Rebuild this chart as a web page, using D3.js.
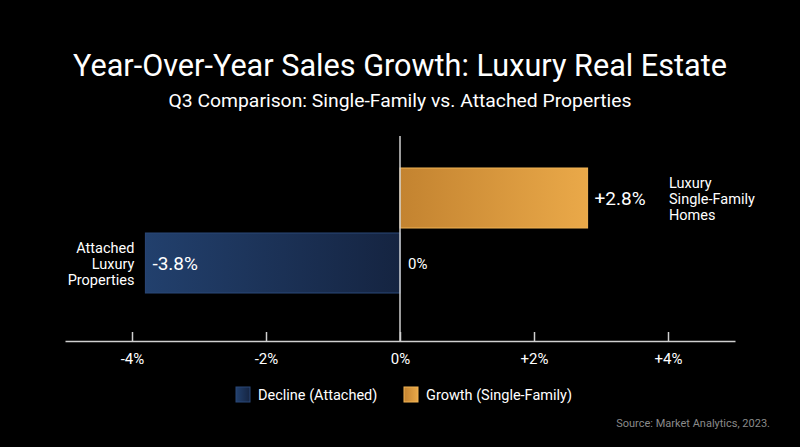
<!DOCTYPE html>
<html>
<head>
<meta charset="utf-8">
<script src="https://cdn.jsdelivr.net/npm/d3@7"></script>
<style>
  html, body { margin: 0; padding: 0; background: #000; }
  svg { display: block; font-family: Roboto, "Noto Sans", sans-serif; }
</style>
</head>
<body>
<svg id="chart" width="800" height="447"></svg>
<script>
// chart data
const categories = ['Luxury Single-Family Homes', 'Attached Luxury Properties'];
const growth = [2.8, -3.8];
const categoryLines = [['Luxury', 'Single-Family', 'Homes'], ['Attached', 'Luxury', 'Properties']];
const xTicks = [-4, -2, 0, 2, 4];
const legendLabels = ['Decline (Attached)', 'Growth (Single-Family)'];

const svg = d3.select('#chart');
const W = 800;

const x = d3.scaleLinear().domain([-5, 5]).range([65, 735]);
const y = d3.scaleBand().domain(categories).range([168, 293]).paddingInner(0.077);
const axisY = 341;

const fmt = v => (v > 0 ? '+' : '') + v + '%';

// gradients
const defs = svg.append('defs');
const gOr = defs.append('linearGradient').attr('id', 'gradOrange');
gOr.append('stop').attr('offset', '0%').attr('stop-color', '#c38330');
gOr.append('stop').attr('offset', '100%').attr('stop-color', '#eaa949');
const gBl = defs.append('linearGradient').attr('id', 'gradBlue');
gBl.append('stop').attr('offset', '0%').attr('stop-color', '#22406d');
gBl.append('stop').attr('offset', '100%').attr('stop-color', '#152441');

// titles
svg.append('text')
  .attr('x', W / 2).attr('y', 76)
  .attr('text-anchor', 'middle')
  .attr('fill', '#fff').attr('font-size', 32)
  .attr('textLength', 654).attr('lengthAdjust', 'spacingAndGlyphs')
  .text('Year-Over-Year Sales Growth: Luxury Real Estate');

svg.append('text')
  .attr('x', W / 2).attr('y', 107)
  .attr('text-anchor', 'middle')
  .attr('fill', '#fff').attr('font-size', 19)
  .attr('textLength', 463).attr('lengthAdjust', 'spacingAndGlyphs')
  .text('Q3 Comparison: Single-Family vs. Attached Properties');

// bars
svg.selectAll('.bar')
  .data(categories)
  .enter().append('rect')
  .attr('class', 'bar')
  .attr('x', (d, i) => x(Math.min(0, growth[i])))
  .attr('y', d => y(d))
  .attr('width', (d, i) => Math.abs(x(growth[i]) - x(0)))
  .attr('height', y.bandwidth())
  .attr('fill', (d, i) => growth[i] > 0 ? 'url(#gradOrange)' : 'url(#gradBlue)')
  .attr('stroke', (d, i) => growth[i] > 0 ? '#f2b455' : '#2b4878')
  .attr('stroke-width', 1);

// zero line
svg.append('line')
  .attr('x1', x(0)).attr('x2', x(0))
  .attr('y1', 136).attr('y2', axisY)
  .attr('stroke', '#cfcfcf').attr('stroke-width', 1.5);

// value + category labels
categories.forEach((c, i) => {
  const v = growth[i];
  const cy = y(c) + y.bandwidth() / 2;
  svg.append('text')
    .attr('x', x(v) + 7)
    .attr('y', cy + 7)
    .attr('fill', '#fff').attr('font-size', 19)
    .text(fmt(v));

  const lx = v > 0 ? 669 : x(v) - 11;
  const t = svg.append('text')
    .attr('fill', '#fff').attr('font-size', 14.5)
    .attr('text-anchor', v > 0 ? 'start' : 'end');
  categoryLines[i].forEach((l, j) => {
    t.append('tspan')
      .attr('x', lx)
      .attr('y', cy + 6 + (j - 1) * 16)
      .text(l);
  });
});

// "0%" marker next to the zero line
svg.append('text')
  .attr('x', x(0) + 8).attr('y', y(categories[1]) + y.bandwidth() / 2 + 6)
  .attr('fill', '#fff').attr('font-size', 15)
  .text('0%');

// x axis
const axis = d3.axisBottom(x)
  .tickValues(xTicks)
  .tickSize(0)
  .tickPadding(0)
  .tickFormat(fmt);

const ax = svg.append('g')
  .attr('transform', `translate(0,${axisY})`)
  .call(axis);
ax.select('.domain').attr('stroke', '#cfcfcf').attr('stroke-width', 1.5);
ax.selectAll('.tick line')
  .attr('y1', 0).attr('y2', -9)
  .attr('stroke', '#cfcfcf').attr('stroke-width', 1.5);
ax.selectAll('.tick text')
  .attr('y', 23).attr('dy', 0)
  .attr('fill', '#fff').attr('font-size', 15)
  .attr('font-family', 'Roboto, sans-serif');

// legend
const legendX = [236, 404];
const legendFill = ['url(#gradBlue)', 'url(#gradOrange)'];
const legendStroke = ['#2b4878', '#f2b455'];
legendLabels.forEach((l, i) => {
  svg.append('rect')
    .attr('x', legendX[i]).attr('y', 387)
    .attr('width', 14).attr('height', 15)
    .attr('fill', legendFill[i])
    .attr('stroke', legendStroke[i]).attr('stroke-width', 1);
  svg.append('text')
    .attr('x', legendX[i] + 22).attr('y', 400)
    .attr('fill', '#fff').attr('font-size', 14.5)
    .text(l);
});

// source note
svg.append('text')
  .attr('x', 770).attr('y', 427)
  .attr('text-anchor', 'end')
  .attr('fill', '#8a8a8a').attr('font-size', 11)
  .text('Source: Market Analytics, 2023.');
</script>
</body>
</html>
